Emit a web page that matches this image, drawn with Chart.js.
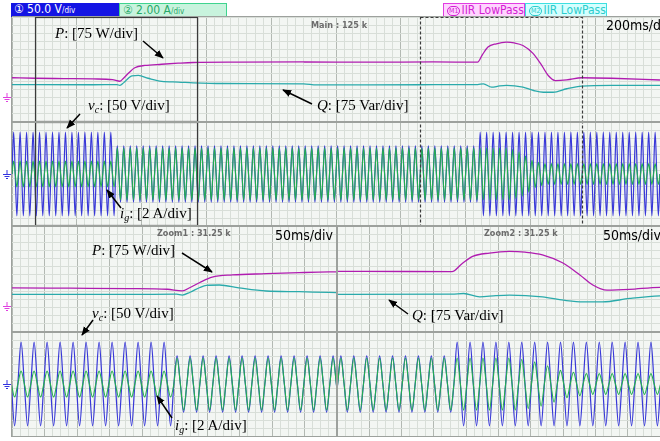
<!DOCTYPE html>
<html>
<head>
<meta charset="utf-8">
<script src="https://cdn.jsdelivr.net/npm/chart.js@4"></script>
<style>
html, body { margin: 0; padding: 0; background: #fff; }
#scope { position: relative; width: 660px; height: 441px; overflow: hidden; background: #fff; }
#screen { position: absolute; left: 12px; top: 17px; width: 648px; height: 419px; background: #f3f6f3; }
.panel { position: absolute; }
.panel canvas { display: block; }
.sep { position: absolute; background: #9da19d; }
.lbl { position: absolute; font-family: "Liberation Serif", "DejaVu Serif", serif; font-size: 15px; line-height: 15px; color: #000; white-space: nowrap; }
.lbl sub { font-size: 10px; line-height: 0; vertical-align: -3px; }
.info { position: absolute; font-family: "DejaVu Sans Condensed", "DejaVu Sans", sans-serif; font-size: 9px; font-weight: bold; color: #6c6c6c; white-space: nowrap; }
.tdiv { position: absolute; font-family: "Liberation Sans Narrow", "DejaVu Sans Condensed", sans-serif; font-size: 14px; color: #000; white-space: nowrap; }
.hdr { position: absolute; top: 3px; height: 14px; box-sizing: border-box; padding-left: 3px; font-family: "DejaVu Sans Condensed", "DejaVu Sans", sans-serif; font-size: 12px; line-height: 12px; white-space: nowrap; overflow: hidden; }
.hdr .sm { font-size: 8px; }
.hdr .cm { display: inline-block; font-size: 7px; line-height: 8px; border: 1px solid currentColor; border-radius: 5px; padding: 0 1px; margin-right: 1px; vertical-align: 1px; }
</style>
</head>
<body>
<div id="scope">
  <div class="hdr" style="left:11px;width:108px;background:#1414e4;color:#fff;">① 50.0 V<span class="sm">/div</span></div>
  <div class="hdr" style="left:119px;width:108px;background:#c8f3dd;color:#28a868;border:1px solid #3fd48e;">② 2.00 A<span class="sm">/div</span></div>
  <div class="hdr" style="left:443px;width:82px;background:#ffd4ff;color:#d21fd2;border:1px solid #e23ce2;"><span class="cm">M1</span>IIR LowPass</div>
  <div class="hdr" style="left:525px;width:82px;background:#d4ffff;color:#2ccccc;border:1px solid #3ee0e0;"><span class="cm">M2</span>IIR LowPass</div>

  <div id="screen"></div>
  <div class="panel" style="left:12px;top:17px"><canvas id="mainPQ" width="648" height="105"></canvas></div>
  <div class="panel" style="left:12px;top:122px"><canvas id="mainWave" width="648" height="104"></canvas></div>
  <div class="panel" style="left:12px;top:226px"><canvas id="zoom1PQ" width="325" height="106"></canvas></div>
  <div class="panel" style="left:12px;top:332px"><canvas id="zoom1Wave" width="325" height="104"></canvas></div>
  <div class="panel" style="left:337px;top:226px"><canvas id="zoom2PQ" width="323" height="106"></canvas></div>
  <div class="panel" style="left:337px;top:332px"><canvas id="zoom2Wave" width="323" height="104"></canvas></div>

  <div class="sep" style="left:12px;top:16px;width:648px;height:1px"></div>
  <div class="sep" style="left:11px;top:17px;width:1px;height:420px"></div>
  <div class="sep" style="left:12px;top:121px;width:648px;height:2px"></div>
  <div class="sep" style="left:12px;top:225px;width:648px;height:2px"></div>
  <div class="sep" style="left:12px;top:331px;width:648px;height:2px"></div>
  <div class="sep" style="left:336px;top:226px;width:2px;height:210px"></div>
  <div class="sep" style="left:12px;top:436px;width:648px;height:1px"></div>

  <svg width="660" height="441" style="position:absolute;left:0;top:0">
    <defs>
      <marker id="ah" viewBox="0 0 10 10" refX="9" refY="5" markerWidth="6" markerHeight="6" orient="auto">
        <path d="M0,1 L10,5 L0,9 z" fill="#000"/>
      </marker>
    </defs>
    <g stroke="#000" stroke-width="1.5" marker-end="url(#ah)">
      <line x1="143" y1="41" x2="163" y2="58"/>
      <line x1="312" y1="104" x2="283" y2="90"/>
      <line x1="80" y1="114" x2="67" y2="128"/>
      <line x1="121" y1="208" x2="107" y2="190"/>
      <line x1="182" y1="253" x2="212" y2="272"/>
      <line x1="408" y1="314" x2="389" y2="300"/>
      <line x1="93" y1="320" x2="82" y2="335"/>
      <line x1="172" y1="418" x2="157" y2="396"/>
    </g>
    <g stroke-width="1" fill="none">
      <path stroke="#e040e0" d="M7,93 V97 M3,97.5 H11 M4.5,99.5 H9.5 M6,101.5 H8"/>
      <path stroke="#3434e0" d="M7,170 V174 M3,174.5 H11 M4.5,176.5 H9.5 M6,178.5 H8"/>
      <path stroke="#e040e0" d="M7,302 V306 M3,306.5 H11 M4.5,308.5 H9.5 M6,310.5 H8"/>
      <path stroke="#3434e0" d="M7,380 V384 M3,384.5 H11 M4.5,386.5 H9.5 M6,388.5 H8"/>
    </g>
  </svg>

  <div class="info" style="left:311px;top:20px">Main : 125 k</div>
  <div class="tdiv" style="left:606px;top:17px">200ms/div</div>
  <div class="info" style="left:157px;top:228px">Zoom1 : 31.25 k</div>
  <div class="tdiv" style="left:275px;top:227px">50ms/div</div>
  <div class="info" style="left:484px;top:228px">Zoom2 : 31.25 k</div>
  <div class="tdiv" style="left:603px;top:227px">50ms/div</div>

  <div class="lbl" style="left:55px;top:26px"><i>P</i>: [75 W/div]</div>
  <div class="lbl" style="left:317px;top:98px"><i>Q</i>: [75 Var/div]</div>
  <div class="lbl" style="left:88px;top:98px"><i>v<sub>c</sub></i>: [50 V/div]</div>
  <div class="lbl" style="left:120px;top:206px"><i>i<sub>g</sub></i>: [2 A/div]</div>
  <div class="lbl" style="left:92px;top:243px"><i>P</i>: [75 W/div]</div>
  <div class="lbl" style="left:412px;top:308px"><i>Q</i>: [75 Var/div]</div>
  <div class="lbl" style="left:92px;top:306px"><i>v<sub>c</sub></i>: [50 V/div]</div>
  <div class="lbl" style="left:175px;top:418px"><i>i<sub>g</sub></i>: [2 A/div]</div>
</div>

<script>
// time in ms: main window is 10 div x 200 ms, each zoom window 10 div x 50 ms
const mainRange = [0, 2000];
const zoom1Range = [71, 571];
const zoom2Range = [1259, 1759];
const cycleMs = 20;

// M1 trace, active power P (W)
const pTime  = [0, 71, 160, 250, 310, 333, 345, 360, 379, 410,
                462, 513, 559, 700, 900, 1100, 1300, 1437, 1452, 1469,
                1495, 1526, 1550, 1577, 1608, 1635, 1655, 1677, 1712, 1759,
                1850, 2000];
const pWatts = [113, 110, 108, 106, 102, 93, 112, 140, 170, 183,
                190, 196, 200, 202, 203, 202, 203, 202, 245, 288,
                307, 316, 312, 297, 252, 183, 126, 97, 101, 113,
                110, 100];

// M2 trace, reactive power Q (Var)
const qTime = [0, 71, 250, 324, 333, 345, 360, 370, 390, 420,
               462, 513, 559, 650, 900, 940, 1259, 1437, 1455, 1480,
               1505, 1526, 1577, 1610, 1640, 1670, 1712, 1759, 1850, 2000];
const qVar  = [74, 73, 73, 74, 69, 85, 112, 124, 126, 110,
               92, 88, 84, 80, 78, 72, 73, 74, 78, 59,
               66, 69, 59, 40, 30, 30, 50, 65, 69, 69];

// peak of vc (V) in each 20 ms mains cycle
const vcPeak = [
  161, 161, 161, 161, 161, 161, 161, 161, 161, 161, 161, 161, 161, 161, 161, 161,
  108, 108, 108, 108, 108, 108, 108, 108, 108, 108, 108, 108, 108, 108, 108, 108,
  108, 108, 108, 108, 108, 108, 108, 108, 108, 108, 108, 108, 108, 108, 108, 108,
  108, 108, 108, 108, 108, 108, 108, 108, 108, 108, 108, 108, 108, 108, 108, 108,
  108, 108, 108, 108, 108, 108, 108, 108,
  161, 161, 161, 161, 161, 161, 161, 161, 161, 161, 161, 161, 161, 161,
  161, 161, 161, 161, 161, 161, 161, 161, 161, 161, 161, 161, 161, 161
];

// peak of ig (A) in each 20 ms mains cycle
const igPeak = [
  2.0, 2.0, 2.0, 2.0, 2.0, 2.0, 2.0, 2.0, 2.0, 2.0, 2.0, 2.0, 2.0, 2.0, 2.0, 2.0,
  4.0, 4.0, 4.0, 4.0, 4.0, 4.0, 4.0, 4.0, 4.0, 4.0, 4.0, 4.0, 4.0, 4.0, 4.0, 4.0,
  4.0, 4.0, 4.0, 4.0, 4.0, 4.0, 4.0, 4.0, 4.0, 4.0, 4.0, 4.0, 4.0, 4.0, 4.0, 4.0,
  4.0, 4.0, 4.0, 4.0, 4.0, 4.0, 4.0, 4.0, 4.0, 4.0, 4.0, 4.0, 4.0, 4.0, 4.0, 4.0,
  4.0, 4.0, 4.0, 4.0, 4.0, 4.0, 4.0, 4.0, 4.0, 4.0, 4.0, 4.0, 4.0,
  3.8, 3.4, 2.8, 2.1, 1.8,
  1.6, 1.6, 1.6, 1.6, 1.6, 1.6, 1.6, 1.6, 1.6,
  1.6, 1.6, 1.6, 1.6, 1.6, 1.6, 1.6, 1.6, 1.6
];

const minorCol = '#d8ded8';
const majorCol = '#b3b9b3';

function toPoints(xs, ys) {
    return xs.map((x, i) => ({ x: x, y: ys[i] }));
}

// each cycle: zero, positive peak, zero, negative peak
function cyclePoints(peaks) {
    let pts = [];
    peaks.forEach((a, k) => {
        let t = k * cycleMs;
        pts.push({ x: t, y: 0 }, { x: t + cycleMs / 4, y: a },
                 { x: t + cycleMs / 2, y: 0 }, { x: t + 3 * cycleMs / 4, y: -a });
    });
    pts.push({ x: peaks.length * cycleMs, y: 0 });
    return pts;
}

function evenTicks(count) {
    return function (axis) {
        let step = (axis.max - axis.min) / count;
        let ticks = [];
        for (let i = 0; i <= count; i++) ticks.push({ value: axis.min + i * step });
        axis.ticks = ticks;
    };
}

function xAxis(range, sub) {
    return {
        type: 'linear', min: range[0], max: range[1],
        afterBuildTicks: evenTicks(10 * sub),
        ticks: { display: false },
        border: { display: false },
        grid: { drawTicks: false, color: (c) => (c.index % sub === 0 ? majorCol : minorCol) }
    };
}

function yAxis(min, max, showGrid) {
    return {
        type: 'linear', min: min, max: max, display: showGrid,
        afterBuildTicks: evenTicks(13),
        ticks: { display: false },
        border: { display: false },
        grid: { drawTicks: false, color: minorCol }
    };
}

// outline of the two zoom windows on the main display
const zoomBoxes = {
    id: 'zoomBoxes',
    afterDatasetsDraw(chart) {
        const { ctx, chartArea, scales } = chart;
        ctx.save();
        ctx.strokeStyle = '#3a3a3a';
        ctx.lineWidth = 1.2;
        [[zoom1Range, []], [zoom2Range, [3, 2]]].forEach(([r, dash]) => {
            ctx.setLineDash(dash);
            let x1 = Math.round(scales.x.getPixelForValue(r[0])) + 0.5;
            let x2 = Math.round(scales.x.getPixelForValue(r[1])) + 0.5;
            ctx.strokeRect(x1, chartArea.top + 0.5, x2 - x1, chartArea.bottom - chartArea.top - 1);
        });
        ctx.restore();
    }
};

const pPoints = toPoints(pTime, pWatts);
const qPoints = toPoints(qTime, qVar);
const vcPoints = cyclePoints(vcPeak);
const igPoints = cyclePoints(igPeak);

const common = {
    responsive: false,
    animation: false,
    parsing: false,
    normalized: true,
    layout: { padding: 0 },
    elements: { point: { radius: 0 } },
    plugins: { legend: { display: false }, tooltip: { enabled: false } }
};

function buildPQ(id, range, sub, plugins) {
    new Chart(document.getElementById(id), {
        type: 'line',
        data: {
            datasets: [
                { label: 'P', data: pPoints, borderColor: '#b01cb0', borderWidth: 1.3, cubicInterpolationMode: 'monotone' },
                { label: 'Q', data: qPoints, borderColor: '#2aaaab', borderWidth: 1.3, cubicInterpolationMode: 'monotone' }
            ]
        },
        options: Object.assign({}, common, {
            scales: { x: xAxis(range, sub), y: yAxis(-140, 460, true) }
        }),
        plugins: plugins
    });
}

function buildWave(id, range, sub, plugins) {
    new Chart(document.getElementById(id), {
        type: 'line',
        data: {
            datasets: [
                { label: 'ig', data: igPoints, yAxisID: 'yi', order: 1, borderColor: '#22b04c', borderWidth: 1.1, cubicInterpolationMode: 'monotone' },
                { label: 'vc', data: vcPoints, yAxisID: 'y', order: 2, borderColor: '#3838d8', borderWidth: 1.2, cubicInterpolationMode: 'monotone' }
            ]
        },
        options: Object.assign({}, common, {
            scales: { x: xAxis(range, sub), y: yAxis(-200, 200, true), yi: yAxis(-8, 8, false) }
        }),
        plugins: plugins
    });
}

buildPQ('mainPQ', mainRange, 8, [zoomBoxes]);
buildWave('mainWave', mainRange, 8, [zoomBoxes]);
buildPQ('zoom1PQ', zoom1Range, 4, []);
buildWave('zoom1Wave', zoom1Range, 4, []);
buildPQ('zoom2PQ', zoom2Range, 4, []);
buildWave('zoom2Wave', zoom2Range, 4, []);
</script>
</body>
</html>
